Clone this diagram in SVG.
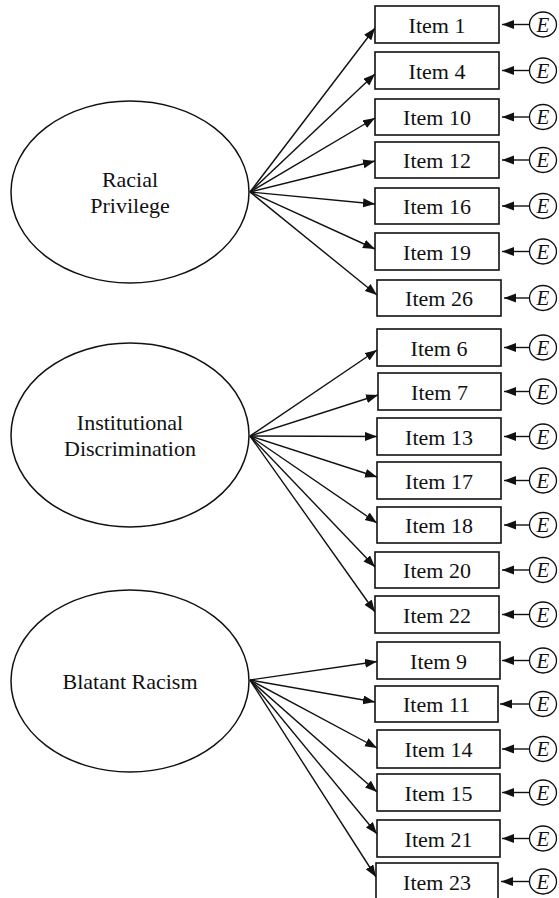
<svg xmlns="http://www.w3.org/2000/svg" width="559" height="898" viewBox="0 0 559 898">
  <style>
    .bg { fill: #ffffff; }
    .latent { fill: #ffffff; stroke: #111111; stroke-width: 1.5; }
    .item { fill: #ffffff; stroke: #111111; stroke-width: 1.6; }
    .err { fill: #ffffff; stroke: #111111; stroke-width: 1.3; }
    .lbl { font-family: "Liberation Serif", "Times New Roman", serif; font-size: 22px; fill: #111111; text-anchor: middle; }
    .e { font-family: "Liberation Serif", "Times New Roman", serif; font-size: 21px; font-style: italic; fill: #111111; text-anchor: middle; }
    .path { stroke: #111111; stroke-width: 1.4; fill: none; marker-end: url(#head); }
  </style>
  <defs>
    <marker id="head" markerUnits="userSpaceOnUse" markerWidth="13" markerHeight="10" refX="12" refY="4.5" orient="auto">
      <path d="M0,0 L12,4.5 L0,9 z" fill="#111111"/>
    </marker>
  </defs>

  <rect class="bg" x="0" y="0" width="559" height="898"/>

  <!-- latent factors -->
  <g id="racial-privilege">
    <ellipse class="latent" cx="130" cy="192" rx="119" ry="91"/>
    <text class="lbl" x="130" y="187">Racial</text>
    <text class="lbl" x="130" y="213">Privilege</text>
  </g>
  <g id="institutional-discrimination">
    <ellipse class="latent" cx="130" cy="435" rx="119" ry="92"/>
    <text class="lbl" x="130" y="430">Institutional</text>
    <text class="lbl" x="130" y="456">Discrimination</text>
  </g>
  <g id="blatant-racism">
    <ellipse class="latent" cx="130" cy="681" rx="119" ry="91"/>
    <text class="lbl" x="130" y="689">Blatant Racism</text>
  </g>

  <!-- factor loadings and error terms -->
  <g id="connectors">
    <line class="path" x1="250" y1="192" x2="375" y2="28"/>
    <line class="path" x1="250" y1="192" x2="375" y2="74"/>
    <line class="path" x1="250" y1="192" x2="375" y2="118"/>
    <line class="path" x1="250" y1="192" x2="375" y2="161"/>
    <line class="path" x1="250" y1="192" x2="375" y2="204"/>
    <line class="path" x1="250" y1="192" x2="375" y2="249"/>
    <line class="path" x1="250" y1="192" x2="377" y2="295"/>

    <line class="path" x1="250" y1="436" x2="377" y2="350"/>
    <line class="path" x1="250" y1="436" x2="378" y2="395"/>
    <line class="path" x1="250" y1="436" x2="377" y2="436.5"/>
    <line class="path" x1="250" y1="436" x2="377" y2="477"/>
    <line class="path" x1="250" y1="436" x2="377" y2="523"/>
    <line class="path" x1="250" y1="436" x2="375" y2="567"/>
    <line class="path" x1="250" y1="436" x2="375" y2="612"/>

    <line class="path" x1="250" y1="680" x2="377" y2="661.5"/>
    <line class="path" x1="250" y1="680" x2="375" y2="702"/>
    <line class="path" x1="250" y1="680" x2="377" y2="748"/>
    <line class="path" x1="250" y1="680" x2="377" y2="792"/>
    <line class="path" x1="250" y1="680" x2="377" y2="834"/>
    <line class="path" x1="250" y1="680" x2="376" y2="877"/>

    <line class="path" x1="529.5" y1="24.5" x2="502" y2="24.5"/>
    <line class="path" x1="529.5" y1="70.5" x2="502" y2="70.5"/>
    <line class="path" x1="529.5" y1="117" x2="502" y2="117"/>
    <line class="path" x1="529.5" y1="160" x2="502" y2="160"/>
    <line class="path" x1="529.5" y1="206" x2="502" y2="206"/>
    <line class="path" x1="529.5" y1="251.5" x2="502" y2="251.5"/>
    <line class="path" x1="529.5" y1="298" x2="504" y2="298"/>
    <line class="path" x1="529.5" y1="347.5" x2="504" y2="347.5"/>
    <line class="path" x1="529.5" y1="391.5" x2="504" y2="391.5"/>
    <line class="path" x1="529.5" y1="436.5" x2="504" y2="436.5"/>
    <line class="path" x1="529.5" y1="480.5" x2="504" y2="480.5"/>
    <line class="path" x1="529.5" y1="525" x2="504" y2="525"/>
    <line class="path" x1="529.5" y1="570" x2="502" y2="570"/>
    <line class="path" x1="529.5" y1="614.5" x2="502" y2="614.5"/>
    <line class="path" x1="529.5" y1="660.5" x2="502" y2="660.5"/>
    <line class="path" x1="529.5" y1="704" x2="500" y2="704"/>
    <line class="path" x1="529.5" y1="749" x2="502" y2="749"/>
    <line class="path" x1="529.5" y1="792.5" x2="502" y2="792.5"/>
    <line class="path" x1="529.5" y1="838.5" x2="502" y2="838.5"/>
    <line class="path" x1="529.5" y1="881.5" x2="501" y2="881.5"/>
  </g>

  <!-- observed items -->
  <g id="item-1"><rect class="item" x="375" y="6" width="124" height="37"/><text class="lbl" x="437" y="32.5">Item 1</text></g>
  <g id="item-4"><rect class="item" x="375" y="52" width="124" height="37"/><text class="lbl" x="437" y="78.5">Item 4</text></g>
  <g id="item-10"><rect class="item" x="375" y="99" width="124" height="36"/><text class="lbl" x="437" y="125">Item 10</text></g>
  <g id="item-12"><rect class="item" x="375" y="142" width="124" height="36"/><text class="lbl" x="437" y="168">Item 12</text></g>
  <g id="item-16"><rect class="item" x="375" y="188" width="124" height="36"/><text class="lbl" x="437" y="214">Item 16</text></g>
  <g id="item-19"><rect class="item" x="375" y="233" width="124" height="37"/><text class="lbl" x="437" y="259.5">Item 19</text></g>
  <g id="item-26"><rect class="item" x="377" y="280" width="124" height="36"/><text class="lbl" x="439" y="306">Item 26</text></g>

  <g id="item-6"><rect class="item" x="377" y="329" width="124" height="37"/><text class="lbl" x="439" y="355.5">Item 6</text></g>
  <g id="item-7"><rect class="item" x="378" y="373" width="123" height="37"/><text class="lbl" x="439.5" y="399.5">Item 7</text></g>
  <g id="item-13"><rect class="item" x="377" y="418" width="124" height="37"/><text class="lbl" x="439" y="444.5">Item 13</text></g>
  <g id="item-17"><rect class="item" x="377" y="462" width="124" height="37"/><text class="lbl" x="439" y="488.5">Item 17</text></g>
  <g id="item-18"><rect class="item" x="377" y="507" width="124" height="36"/><text class="lbl" x="439" y="533">Item 18</text></g>
  <g id="item-20"><rect class="item" x="375" y="552" width="124" height="36"/><text class="lbl" x="437" y="578">Item 20</text></g>
  <g id="item-22"><rect class="item" x="375" y="596" width="124" height="37"/><text class="lbl" x="437" y="622.5">Item 22</text></g>

  <g id="item-9"><rect class="item" x="377" y="642" width="123" height="37"/><text class="lbl" x="438.5" y="668.5">Item 9</text></g>
  <g id="item-11"><rect class="item" x="375" y="686" width="123" height="36"/><text class="lbl" x="436.5" y="712">Item 11</text></g>
  <g id="item-14"><rect class="item" x="377" y="730" width="123" height="38"/><text class="lbl" x="438.5" y="757">Item 14</text></g>
  <g id="item-15"><rect class="item" x="377" y="774" width="123" height="37"/><text class="lbl" x="438.5" y="800.5">Item 15</text></g>
  <g id="item-21"><rect class="item" x="377" y="820" width="123" height="37"/><text class="lbl" x="438.5" y="846.5">Item 21</text></g>
  <g id="item-23"><rect class="item" x="376" y="863" width="122" height="37"/><text class="lbl" x="437" y="889.5">Item 23</text></g>

  <!-- error terms -->
  <g id="error-terms">
    <g id="e-1"><ellipse class="err" cx="543" cy="24.5" rx="13.5" ry="12.5"/><text class="e" x="543" y="31.5">E</text></g>
    <g id="e-4"><ellipse class="err" cx="543" cy="70.5" rx="13.5" ry="12.5"/><text class="e" x="543" y="77.5">E</text></g>
    <g id="e-10"><ellipse class="err" cx="543" cy="117" rx="13.5" ry="12.5"/><text class="e" x="543" y="124">E</text></g>
    <g id="e-12"><ellipse class="err" cx="543" cy="160" rx="13.5" ry="12.5"/><text class="e" x="543" y="167">E</text></g>
    <g id="e-16"><ellipse class="err" cx="543" cy="206" rx="13.5" ry="12.5"/><text class="e" x="543" y="213">E</text></g>
    <g id="e-19"><ellipse class="err" cx="543" cy="251.5" rx="13.5" ry="12.5"/><text class="e" x="543" y="258.5">E</text></g>
    <g id="e-26"><ellipse class="err" cx="543" cy="298" rx="13.5" ry="12.5"/><text class="e" x="543" y="305">E</text></g>
    <g id="e-6"><ellipse class="err" cx="543" cy="347.5" rx="13.5" ry="12.5"/><text class="e" x="543" y="354.5">E</text></g>
    <g id="e-7"><ellipse class="err" cx="543" cy="391.5" rx="13.5" ry="12.5"/><text class="e" x="543" y="398.5">E</text></g>
    <g id="e-13"><ellipse class="err" cx="543" cy="436.5" rx="13.5" ry="12.5"/><text class="e" x="543" y="443.5">E</text></g>
    <g id="e-17"><ellipse class="err" cx="543" cy="480.5" rx="13.5" ry="12.5"/><text class="e" x="543" y="487.5">E</text></g>
    <g id="e-18"><ellipse class="err" cx="543" cy="525" rx="13.5" ry="12.5"/><text class="e" x="543" y="532">E</text></g>
    <g id="e-20"><ellipse class="err" cx="543" cy="570" rx="13.5" ry="12.5"/><text class="e" x="543" y="577">E</text></g>
    <g id="e-22"><ellipse class="err" cx="543" cy="614.5" rx="13.5" ry="12.5"/><text class="e" x="543" y="621.5">E</text></g>
    <g id="e-9"><ellipse class="err" cx="543" cy="660.5" rx="13.5" ry="12.5"/><text class="e" x="543" y="667.5">E</text></g>
    <g id="e-11"><ellipse class="err" cx="543" cy="704" rx="13.5" ry="12.5"/><text class="e" x="543" y="711">E</text></g>
    <g id="e-14"><ellipse class="err" cx="543" cy="749" rx="13.5" ry="12.5"/><text class="e" x="543" y="756">E</text></g>
    <g id="e-15"><ellipse class="err" cx="543" cy="792.5" rx="13.5" ry="12.5"/><text class="e" x="543" y="799.5">E</text></g>
    <g id="e-21"><ellipse class="err" cx="543" cy="838.5" rx="13.5" ry="12.5"/><text class="e" x="543" y="845.5">E</text></g>
    <g id="e-23"><ellipse class="err" cx="543" cy="881.5" rx="13.5" ry="12.5"/><text class="e" x="543" y="888.5">E</text></g>
  </g>
</svg>
